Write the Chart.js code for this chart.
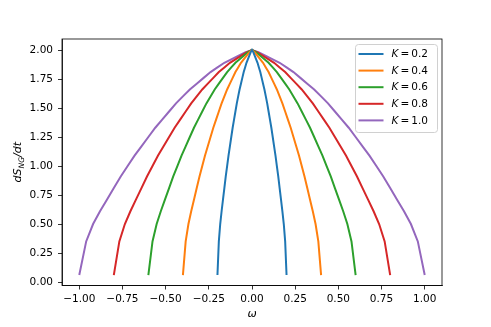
<!DOCTYPE html>
<html>
<head>
<meta charset="utf-8">
<script src="https://cdn.jsdelivr.net/npm/chart.js@4.4.1/dist/chart.umd.min.js"></script>
<style>
html,body{margin:0;padding:0;background:#fff;}
canvas{display:block;}
</style>
</head>
<body>
<canvas id="c" width="491" height="327"></canvas>
<script>
// ---- data ----
const kLabels = ["0.2", "0.4", "0.6", "0.8", "1.0"];
const seriesColors = ["#1f77b4", "#ff7f0e", "#2ca02c", "#d62728", "#9467bd"];

const omegaK02 = [-0.2,-0.192,-0.184,-0.176,-0.168,-0.16,-0.152,-0.144,-0.136,-0.128,-0.12,-0.112,-0.104,-0.096,-0.088,-0.08,-0.072,-0.064,-0.056,-0.048,-0.04,-0.032,-0.024,-0.016,-0.008,0,
  0.008,0.016,0.024,0.032,0.04,0.048,0.056,0.064,0.072,0.08,0.088,0.096,0.104,0.112,0.12,0.128,0.136,0.144,0.152,0.16,0.168,0.176,0.184,0.192,0.2];
const omegaK04 = [-0.4,-0.384,-0.368,-0.352,-0.336,-0.32,-0.304,-0.288,-0.272,-0.256,-0.24,-0.224,-0.208,-0.192,-0.176,-0.16,-0.144,-0.128,-0.112,-0.096,-0.08,-0.064,-0.048,-0.032,-0.016,0,
  0.016,0.032,0.048,0.064,0.08,0.096,0.112,0.128,0.144,0.16,0.176,0.192,0.208,0.224,0.24,0.256,0.272,0.288,0.304,0.32,0.336,0.352,0.368,0.384,0.4];
const omegaK06 = [-0.6,-0.576,-0.552,-0.528,-0.504,-0.48,-0.456,-0.432,-0.408,-0.384,-0.36,-0.336,-0.312,-0.288,-0.264,-0.24,-0.216,-0.192,-0.168,-0.144,-0.12,-0.096,-0.072,-0.048,-0.024,0,
  0.024,0.048,0.072,0.096,0.12,0.144,0.168,0.192,0.216,0.24,0.264,0.288,0.312,0.336,0.36,0.384,0.408,0.432,0.456,0.48,0.504,0.528,0.552,0.576,0.6];
const omegaK08 = [-0.8,-0.768,-0.736,-0.704,-0.672,-0.64,-0.608,-0.576,-0.544,-0.512,-0.48,-0.448,-0.416,-0.384,-0.352,-0.32,-0.288,-0.256,-0.224,-0.192,-0.16,-0.128,-0.096,-0.064,-0.032,0,
  0.032,0.064,0.096,0.128,0.16,0.192,0.224,0.256,0.288,0.32,0.352,0.384,0.416,0.448,0.48,0.512,0.544,0.576,0.608,0.64,0.672,0.704,0.736,0.768,0.8];
const omegaK10 = [-1.0,-0.96,-0.92,-0.88,-0.84,-0.8,-0.76,-0.72,-0.68,-0.64,-0.6,-0.56,-0.52,-0.48,-0.44,-0.4,-0.36,-0.32,-0.28,-0.24,-0.2,-0.16,-0.12,-0.08,-0.04,0,
  0.04,0.08,0.12,0.16,0.2,0.24,0.28,0.32,0.36,0.4,0.44,0.48,0.52,0.56,0.6,0.64,0.68,0.72,0.76,0.8,0.84,0.88,0.92,0.96,1.0];

// dS_NG/dt read at the same relative positions on every curve
const dSValues = [0.06,0.35,0.50,0.61,0.71,0.81,0.91,1.00,1.09,1.17,1.25,1.33,1.40,1.47,1.54,1.60,1.66,1.71,1.76,1.81,1.85,1.89,1.92,1.95,1.98,2.00,
  1.98,1.95,1.92,1.89,1.85,1.81,1.76,1.71,1.66,1.60,1.54,1.47,1.40,1.33,1.25,1.17,1.09,1.00,0.91,0.81,0.71,0.61,0.50,0.35,0.06];

const omegaSeries = [omegaK02, omegaK04, omegaK06, omegaK08, omegaK10];

const xTicks = [-1.0,-0.75,-0.5,-0.25,0,0.25,0.5,0.75,1.0];
const yTicks = [0,0.25,0.5,0.75,1.0,1.25,1.5,1.75,2.0];

// ---- chart ----
const FONT = "DejaVu Sans";
const datasets = omegaSeries.map((om, i) => ({
  label: "K = " + kLabels[i],
  data: om.map((w, j) => ({x: w, y: dSValues[j]})),
  borderColor: seriesColors[i],
  backgroundColor: seriesColors[i],
  borderWidth: 2,
  pointRadius: 0,
  tension: 0,
  fill: false
}));

const fmt = v => v.toFixed(2).replace("-", "\u2212");

const decor = {
  id: "decor",
  afterDraw(chart) {
    const ctx = chart.ctx, a = chart.chartArea;
    ctx.save();
    // frame
    ctx.strokeStyle = "#000";
    ctx.lineWidth = 0.8;
    ctx.strokeRect(a.left, a.top, a.right - a.left, a.bottom - a.top);

    // x title
    ctx.fillStyle = "#000";
    ctx.font = "italic 11px " + FONT;
    ctx.textAlign = "center";
    ctx.textBaseline = "middle";
    ctx.fillText("\u03c9", (a.left + a.right) / 2, 314);

    // y title dS_NG/dt
    ctx.save();
    ctx.translate(17, (a.top + a.bottom) / 2);
    ctx.rotate(-Math.PI / 2);
    ctx.textBaseline = "alphabetic";
    ctx.textAlign = "left";
    const p1 = "dS", sub = "NG", p2 = "/dt";
    ctx.font = "italic 11px " + FONT;
    const w1 = ctx.measureText(p1).width, w3 = ctx.measureText(p2).width;
    ctx.font = "italic 7.5px " + FONT;
    const w2 = ctx.measureText(sub).width;
    let x = -(w1 + w2 + w3) / 2;
    ctx.font = "italic 11px " + FONT;
    ctx.fillText(p1, x, 4); x += w1;
    ctx.font = "italic 7.5px " + FONT;
    ctx.fillText(sub, x, 6.5); x += w2;
    ctx.font = "italic 11px " + FONT;
    ctx.fillText(p2, x, 4);
    ctx.restore();

    // legend
    const lx = 355, ly = 44, lw = 82, lh = 88;
    ctx.beginPath();
    if (ctx.roundRect) ctx.roundRect(lx + 0.5, ly + 0.5, lw, lh, 3); else ctx.rect(lx + 0.5, ly + 0.5, lw, lh);
    ctx.fillStyle = "rgba(255,255,255,0.8)";
    ctx.fill();
    ctx.strokeStyle = "#d0d0d0";
    ctx.lineWidth = 1;
    ctx.stroke();
    chart.data.datasets.forEach((ds, i) => {
      const yy = 54 + i * 16.6;
      ctx.strokeStyle = ds.borderColor;
      ctx.lineWidth = 2;
      ctx.beginPath();
      ctx.moveTo(358.5, yy);
      ctx.lineTo(383.5, yy);
      ctx.stroke();
      ctx.fillStyle = "#000";
      ctx.textAlign = "left";
      ctx.textBaseline = "middle";
      ctx.font = "italic 10.5px " + FONT;
      ctx.fillText("K", 391.5, yy + 0.5);
      const kw = ctx.measureText("K").width;
      ctx.font = "10.5px " + FONT;
      ctx.fillText("=\u2009" + kLabels[i], 391.5 + kw + 2, yy + 0.5);
    });
    ctx.restore();
  }
};

new Chart(document.getElementById("c"), {
  type: "line",
  data: { datasets },
  options: {
    responsive: false,
    animation: false,
    layout: { padding: { top: 39, right: 49, left: 0, bottom: 0 } },
    plugins: { legend: { display: false }, tooltip: { enabled: false } },
    scales: {
      x: {
        type: "linear",
        min: -1.1, max: 1.1,
        afterBuildTicks: s => { s.ticks = xTicks.map(v => ({ value: v })); },
        afterFit: s => { s.height = 41.5; },
        grid: { display: true, drawOnChartArea: false, drawTicks: true, tickLength: 4, color: "#000", lineWidth: 0.8 },
        border: { display: true, color: "#000", width: 0.8 },
        ticks: { callback: v => fmt(v), color: "#000", font: { family: FONT, size: 10.5 }, padding: 3, maxRotation: 0, autoSkip: false }
      },
      y: {
        type: "linear",
        min: -0.03, max: 2.095,
        afterBuildTicks: s => { s.ticks = yTicks.map(v => ({ value: v })); },
        afterFit: s => { s.width = 62; },
        grid: { display: true, drawOnChartArea: false, drawTicks: true, tickLength: 4, color: "#000", lineWidth: 0.8 },
        border: { display: true, color: "#000", width: 0.8 },
        ticks: { callback: v => fmt(v), color: "#000", font: { family: FONT, size: 10.5 }, padding: 5, autoSkip: false }
      }
    }
  },
  plugins: [decor]
});
</script>
</body>
</html>
